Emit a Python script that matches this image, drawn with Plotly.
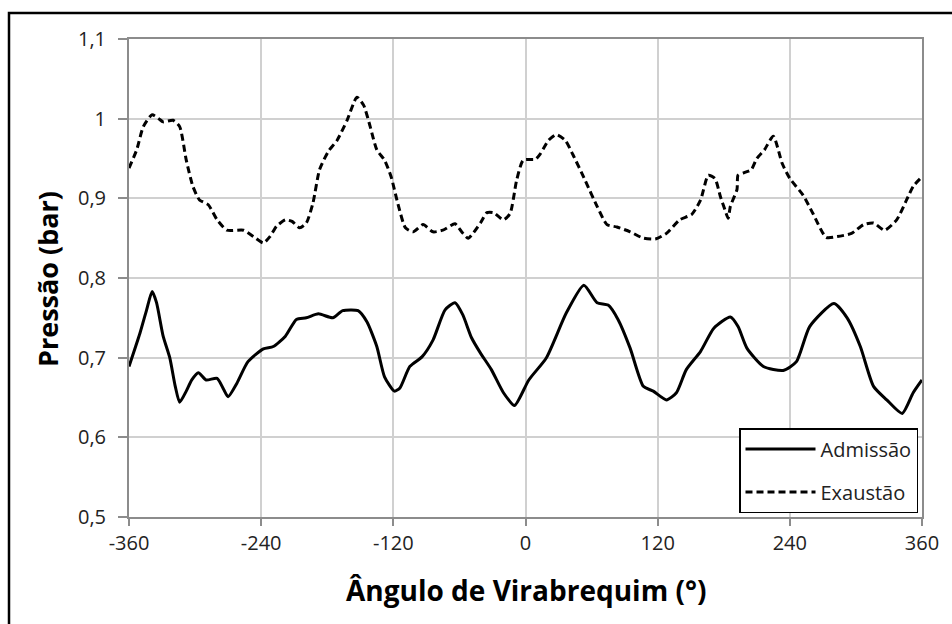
import plotly.graph_objects as go

# ---- data ----
angle_adm = [-360, -350, -344, -339, -335, -329, -323, -318, -314, -308, -303, -297, -290, -280,
             -274, -270, -262, -252, -238, -229, -218, -208, -199, -188, -175, -166, -152, -144,
             -135, -128, -119, -114, -105, -94, -84, -73, -64, -57, -49, -41, -31, -20, -10, 3,
             19, 37, 53, 65, 75, 84, 95, 107, 116, 128, 137, 146, 159, 171, 186, 193, 201, 216,
             234, 246, 258, 280, 292, 304, 316, 328, 342, 352, 360]
p_adm = [0.689, 0.731, 0.760, 0.783, 0.769, 0.727, 0.700, 0.664, 0.644, 0.658, 0.672, 0.681, 0.672,
         0.674, 0.660, 0.651, 0.668, 0.695, 0.711, 0.714, 0.727, 0.748, 0.750, 0.755, 0.750, 0.759,
         0.759, 0.745, 0.714, 0.676, 0.658, 0.662, 0.689, 0.701, 0.722, 0.760, 0.769, 0.754, 0.725,
         0.706, 0.685, 0.656, 0.640, 0.672, 0.700, 0.756, 0.791, 0.769, 0.766, 0.748, 0.712, 0.664,
         0.658, 0.647, 0.656, 0.685, 0.708, 0.737, 0.751, 0.739, 0.712, 0.689, 0.684, 0.695, 0.739,
         0.768, 0.750, 0.714, 0.664, 0.647, 0.630, 0.656, 0.672]

angle_exh = [-360, -353, -347, -339, -333, -329, -320, -314, -308, -302, -296, -288, -280, -271,
             -256, -247, -238, -232, -226, -218, -212, -205, -199, -193, -187, -179, -171, -162,
             -153, -147, -141, -135, -128, -122, -116, -109, -102, -93, -84, -75, -64, -58, -52,
             -41, -35, -29, -20, -14, -8, -2, 9, 13, 21, 28, 36, 43, 54, 65, 74, 83, 95, 107, 118,
             128, 140, 151, 159, 166, 172, 177, 181, 184, 186, 192, 193, 198, 205, 210, 217, 225,
             233, 240, 252, 261, 273, 283, 296, 307, 316, 326, 337, 346, 352, 360]
p_exh = [0.938, 0.961, 0.990, 1.005, 1.000, 0.996, 0.998, 0.990, 0.948, 0.915, 0.898, 0.892, 0.873,
         0.860, 0.860, 0.852, 0.844, 0.852, 0.865, 0.873, 0.871, 0.863, 0.869, 0.894, 0.936, 0.959,
         0.973, 0.998, 1.027, 1.017, 0.990, 0.961, 0.948, 0.927, 0.894, 0.863, 0.858, 0.867, 0.858,
         0.860, 0.868, 0.858, 0.850, 0.869, 0.882, 0.882, 0.873, 0.881, 0.923, 0.948, 0.949, 0.955,
         0.973, 0.980, 0.973, 0.955, 0.923, 0.890, 0.867, 0.864, 0.858, 0.850, 0.849, 0.856, 0.873,
         0.880, 0.898, 0.929, 0.925, 0.902, 0.886, 0.875, 0.890, 0.911, 0.929, 0.932, 0.936, 0.950,
         0.961, 0.978, 0.944, 0.925, 0.904, 0.881, 0.851, 0.852, 0.856, 0.867, 0.869, 0.860, 0.873,
         0.898, 0.915, 0.927]

x_ticks = [-360, -240, -120, 0, 120, 240, 360]
x_tick_labels = ["-360", "-240", "-120", "0", "120", "240", "360"]
y_ticks = [0.5, 0.6, 0.7, 0.8, 0.9, 1.0, 1.1]
y_tick_labels = ["0,5", "0,6", "0,7", "0,8", "0,9", "1", "1,1"]

series_names = ["Admissão", "Exaustão"]
x_title = "Ângulo de Virabrequim (°)"
y_title = "Pressão (bar)"

# ---- layout geometry ----
W, H = 952, 624
ML, MR, MT, MB = 129, 30, 39, 107
PW, PH = W - ML - MR, H - MT - MB


def px_x(px):
    return (px - ML) / PW


def px_y(py):
    return (H - MB - py) / PH


FONT = "Open Sans"
TXT = "#222222"

fig = go.Figure()
fig.add_trace(go.Scatter(x=angle_adm, y=p_adm, mode="lines", name=series_names[0],
                         legendgroup="adm",
                         line=dict(color="black", width=3, shape="spline", smoothing=0.6)))
fig.add_trace(go.Scatter(x=angle_exh, y=p_exh, mode="lines", name=series_names[1],
                         legendgroup="exh",
                         line=dict(color="black", width=3, shape="spline", smoothing=0.6,
                                   dash="7px,4px")))

fig.update_layout(
    width=W, height=H,
    margin=dict(l=ML, r=MR, t=MT, b=MB, pad=0),
    paper_bgcolor="white", plot_bgcolor="white",
    font=dict(family=FONT, color=TXT, size=20),
    showlegend=True,
    legend=dict(x=px_x(918), y=px_y(513), xanchor="right", yanchor="bottom",
                bgcolor="white", bordercolor="black", borderwidth=1.5,
                font=dict(family=FONT, size=20, color=TXT),
                itemwidth=70, tracegroupgap=14),
    xaxis=dict(range=[-360, 360], tickvals=x_ticks, ticktext=x_tick_labels,
               ticks="outside", ticklen=7,
               tickcolor="#8c8c8c", tickwidth=1.5,
               showgrid=True, gridcolor="#d0d0d0", gridwidth=1.5,
               showline=True, linecolor="#8c8c8c", linewidth=2, mirror=True,
               zeroline=False, tickfont=dict(size=20, family=FONT, color=TXT)),
    yaxis=dict(range=[0.5, 1.1], tickvals=y_ticks, ticktext=y_tick_labels,
               ticks="outside", ticklen=9, tickcolor="#8c8c8c", tickwidth=1.5,
               showgrid=True, gridcolor="#d0d0d0", gridwidth=1.5,
               showline=True, linecolor="#8c8c8c", linewidth=2, mirror=True,
               zeroline=False, tickfont=dict(size=20, family=FONT, color=TXT),
               ticklabelstandoff=8),
    annotations=[
        dict(text=f"<b>{x_title}</b>", xref="paper", yref="paper", x=px_x(525.5), y=px_y(590),
             showarrow=False, font=dict(size=28, family=FONT, color="black"),
             xanchor="center", yanchor="middle"),
        dict(text=f"<b>{y_title}</b>", xref="paper", yref="paper", x=px_x(47), y=px_y(279),
             showarrow=False, textangle=-90, font=dict(size=27, family=FONT, color="black"),
             xanchor="center", yanchor="middle"),
    ],
    shapes=[
        dict(type="rect", xref="paper", yref="paper", x0=px_x(9), x1=px_x(960),
             y0=px_y(640), y1=px_y(13), line=dict(color="black", width=2.5),
             fillcolor="rgba(0,0,0,0)", layer="below"),
    ],
)

fig.write_html("out.html")
